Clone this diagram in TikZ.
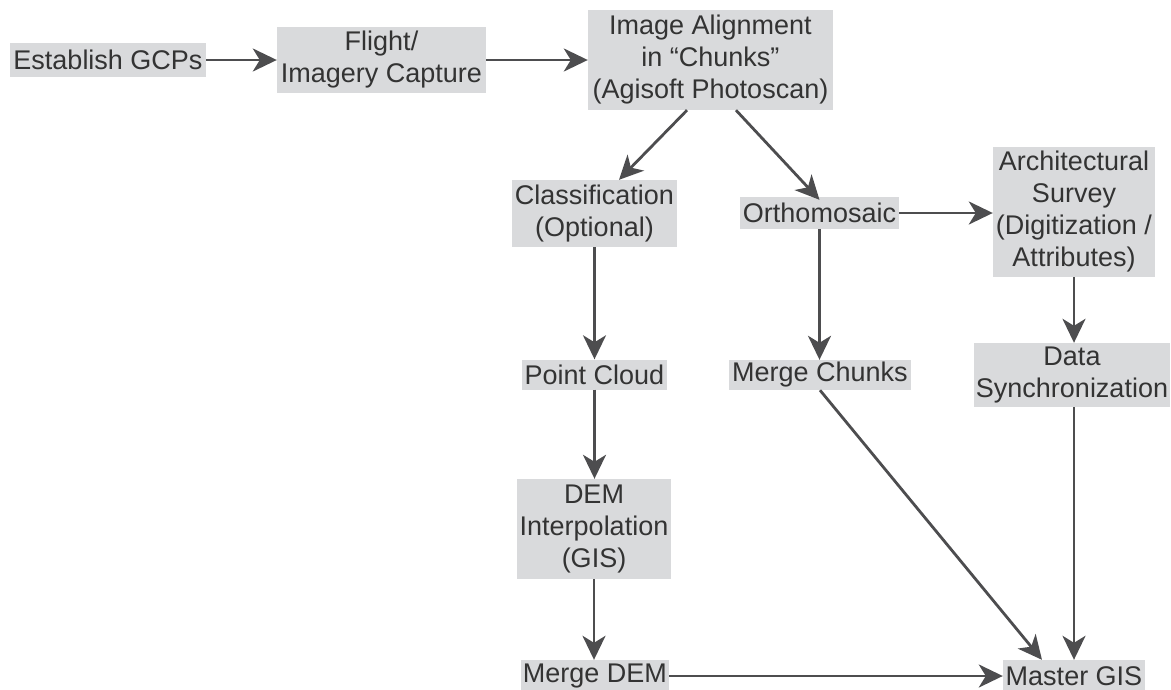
\documentclass[tikz,border=0pt]{standalone}
\usepackage{fontspec}
\setmainfont{Liberation Sans}
\usetikzlibrary{arrows.meta}
\definecolor{boxfill}{HTML}{D9DADC}
\definecolor{txt}{HTML}{333333}
\definecolor{arr}{HTML}{4D4D4F}
\tikzset{
  box/.style={fill=boxfill, text=txt, inner sep=0pt, align=center,
    font=\fontsize{27}{32}\selectfont},
  conn/.style={draw=arr, line width=2.8pt,
    -{Stealth[length=24pt,width=23pt,inset=7pt]}}
}
\begin{document}
\begin{tikzpicture}[x=1pt,y=-1pt]
\useasboundingbox (0,0) rectangle (1171,689);
\node[box, minimum width=196pt, minimum height=34pt] (gcp) at (108,60) {Establish GCPs};
\node[box, minimum width=209pt, minimum height=66pt] (flight) at (381.5,60) {Flight/\\Imagery Capture};
\node[box, minimum width=245pt, minimum height=100pt] (align) at (710.5,60) {Image Alignment\\in “Chunks”\\(Agisoft Photoscan)};
\node[box, minimum width=165pt, minimum height=67pt] (class) at (594.5,213.5) {Classification\\(Optional)};
\node[box, minimum width=159pt, minimum height=32pt] (ortho) at (819.5,213) {Orthomosaic};
\node[box, minimum width=162pt, minimum height=130pt] (arch) at (1074,212) {Architectural\\Survey\\(Digitization /\\Attributes)};
\node[box, minimum width=145pt, minimum height=30pt] (pc) at (594.5,374.5) {Point Cloud};
\node[box, minimum width=182pt, minimum height=30pt] (mc) at (820,375) {Merge Chunks};
\node[box, minimum width=196pt, minimum height=64pt] (ds) at (1072,375) {Data\\Synchronization};
\node[box, minimum width=154pt, minimum height=100pt] (dem) at (594,529) {DEM\\Interpolation\\(GIS)};
\node[box, minimum width=148pt, minimum height=32pt] (mdem) at (595,676) {Merge DEM};
\node[box, minimum width=142pt, minimum height=32pt] (mgis) at (1074,676) {Master GIS};

\draw[conn] (gcp.east) -- (gcp.east -| flight.west);
\draw[conn] (flight.east) -- (flight.east -| align.west);
\draw[conn] ([xshift=-23.5pt]align.south) -- ([xshift=24.5pt]class.north);
\draw[conn] ([xshift=25.5pt]align.south) -- ([yshift=-3pt]ortho.north);
\draw[conn] (ortho.east) -- (ortho.east -| arch.west);
\draw[conn] (ortho.south) -- (ortho.south |- mc.north);
\draw[conn] (class.south) -- (class.south |- pc.north);
\draw[conn] (pc.south) -- (pc.south |- dem.north);
\draw[conn] (dem.south) -- (dem.south |- mdem.north);
\draw[conn] (mdem.east) -- (mdem.east -| mgis.west);
\draw[conn] (mc.south) -- ([xshift=-32pt]mgis.north);
\draw[conn] (arch.south) -- (arch.south |- ds.north);
\draw[conn] (mgis.north |- ds.south) -- (mgis.north);
\end{tikzpicture}
\end{document}
